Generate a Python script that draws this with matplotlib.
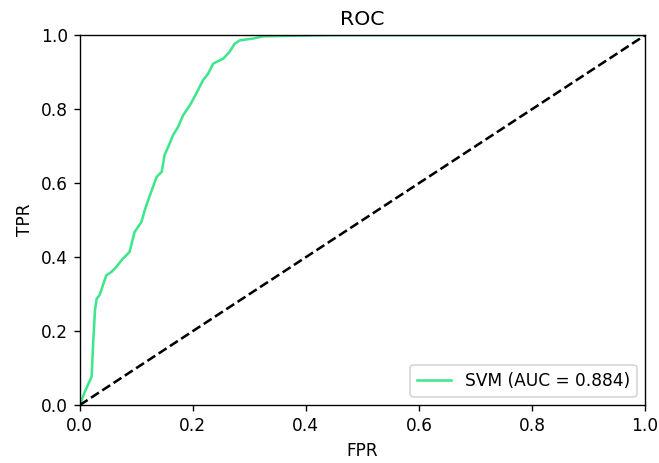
import matplotlib
matplotlib.use("Agg")
from matplotlib import pyplot as plt

fpr = [0.0, 0.009, 0.021, 0.024, 0.027, 0.030, 0.035, 0.047, 0.056, 0.065, 0.074, 0.088,
       0.097, 0.109, 0.115, 0.121, 0.136, 0.145, 0.150, 0.159, 0.165, 0.174, 0.183,
       0.195, 0.206, 0.218, 0.227, 0.236, 0.254, 0.265, 0.274, 0.283, 0.307, 0.324,
       0.395, 0.45, 1.0]
tpr = [0.0, 0.036, 0.077, 0.176, 0.257, 0.288, 0.297, 0.351, 0.360, 0.374, 0.392, 0.414,
       0.468, 0.495, 0.527, 0.554, 0.617, 0.631, 0.676, 0.707, 0.730, 0.752, 0.784,
       0.811, 0.842, 0.878, 0.896, 0.923, 0.937, 0.955, 0.977, 0.986, 0.991, 0.997,
       0.999, 1.0, 1.0]
auc = 0.884

fig = plt.figure(figsize=(659 / 122, 463 / 122), dpi=122)
ax = fig.add_axes([0.121, 0.125, 0.858, 0.799])
ax.plot(fpr, tpr, color="#3ee68b", linewidth=1.5, label="SVM (AUC = %0.3f)" % auc)
ax.plot([0, 1], [0, 1], color="k", linestyle="--", linewidth=1.5)
ax.set_xlim(0, 1)
ax.set_ylim(0, 1)
ax.set_title("ROC")
ax.set_xlabel("FPR")
ax.set_ylabel("TPR")
ax.legend(loc="lower right")
fig.savefig("out.png")
